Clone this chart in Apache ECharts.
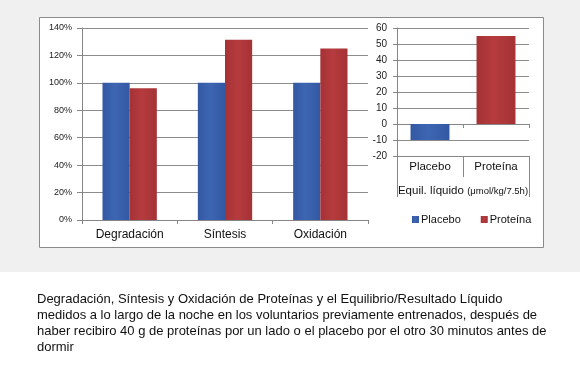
<!DOCTYPE html>
<html><head><meta charset="utf-8">
<script src="https://cdn.jsdelivr.net/npm/echarts@6/dist/echarts.min.js"></script>
<style>html,body{margin:0;padding:0;background:#fff}#c{width:580px;height:370px}</style>
</head><body><div id="c"></div>
<script>
const categories = ['Degradación', 'Síntesis', 'Oxidación'];
const placeboPct = [100, 100, 100];
const proteinPct = [96, 131.5, 125];
const balanceCategories = ['Placebo', 'Proteína'];
const balanceGroup = ['Equil. líquido'];
const balanceUnit = '(μmol/kg/7.5h)';
const placeboBalance = [-10, '-'];
const proteinBalance = ['-', 55];
const seriesNames = ['Placebo', 'Proteína'];
const captionLines = [
  'Degradación, Síntesis y Oxidación de Proteínas y el Equilibrio/Resultado Líquido',
  'medidos a lo largo de la noche en los voluntarios previamente entrenados, después de',
  'haber recibiro 40 g de proteínas por un lado o el placebo por el otro 30 minutos antes de',
  'dormir'
];

const FONT = '"Liberation Sans", Arial, sans-serif';
const grad = (edge, mid) => new echarts.graphic.LinearGradient(0, 0, 1, 0, [
  { offset: 0, color: edge }, { offset: 0.45, color: mid }, { offset: 1, color: edge }
]);
const blue = grad('#3358a3', '#3d66b2');
const red = grad('#a53235', '#b53b3e');
const gridLine = { show: true, lineStyle: { color: '#8c8c8c', width: 1 } };
const axisLineStyle = { color: '#868686', width: 1 };

const chart = echarts.init(document.getElementById('c'), null, { renderer: 'canvas' });
chart.setOption({
  animation: false,
  backgroundColor: '#ffffff',
  textStyle: { fontFamily: FONT },
  graphic: [
    { type: 'rect', z: -10, silent: true, shape: { x: 0, y: 0, width: 580, height: 272 }, style: { fill: '#f0f0f0' } },
    { type: 'rect', z: -9, silent: true, shape: { x: 39.5, y: 17.5, width: 504, height: 230 }, style: { fill: '#ffffff', stroke: '#8a8a8a', lineWidth: 1 } }
  ],
  title: {
    text: captionLines.join('\n'),
    left: 32, top: 286,
    textStyle: { fontFamily: FONT, fontSize: 13, fontWeight: 'normal', color: '#111', lineHeight: 16 }
  },
  legend: {
    data: seriesNames,
    left: 412, top: 214, padding: 0,
    icon: 'rect', itemWidth: 7, itemHeight: 7, itemGap: 20,
    textStyle: { fontFamily: FONT, fontSize: 11, color: '#111', padding: [0, 0, 0, -3] }
  },
  grid: [
    { left: 82, top: 28, width: 286, height: 192 },
    { left: 397, top: 28, width: 132, height: 128 }
  ],
  xAxis: [
    {
      gridIndex: 0, type: 'category', data: categories,
      axisLine: { lineStyle: axisLineStyle },
      axisTick: { show: true, length: 4, interval: 0, alignWithLabel: false, lineStyle: axisLineStyle },
      axisLabel: { fontSize: 12, color: '#111', margin: 9, fontFamily: FONT }
    },
    {
      gridIndex: 1, type: 'category', data: balanceCategories,
      axisLine: { onZero: true, lineStyle: axisLineStyle },
      axisTick: { show: true, length: 4, interval: 0, lineStyle: axisLineStyle },
      axisLabel: { show: false }
    },
    {
      gridIndex: 1, type: 'category', data: balanceCategories, position: 'bottom',
      axisLine: { show: true, onZero: false, lineStyle: axisLineStyle },
      axisTick: { show: true, length: 21, interval: 0, lineStyle: axisLineStyle },
      axisLabel: { fontSize: 11.5, color: '#111', margin: 5, fontFamily: FONT }
    },
    {
      gridIndex: 1, type: 'category', data: balanceGroup, position: 'bottom',
      axisLine: { show: false, onZero: false },
      axisTick: { show: true, length: 41, interval: 0, lineStyle: axisLineStyle },
      axisLabel: {
        margin: 29, interval: 0,
        formatter: v => '{a|' + v + '} {b|' + balanceUnit + '}',
        rich: {
          a: { fontSize: 11.5, color: '#111', fontFamily: FONT },
          b: { fontSize: 9.5, color: '#111', fontFamily: FONT }
        }
      }
    }
  ],
  yAxis: [
    {
      gridIndex: 0, type: 'value', min: 0, max: 140, interval: 20,
      axisLine: { show: true, lineStyle: axisLineStyle },
      axisTick: { show: true, length: 5, lineStyle: axisLineStyle },
      axisLabel: { formatter: '{value}%', fontSize: 9, color: '#222', margin: 10 },
      splitLine: gridLine
    },
    {
      gridIndex: 1, type: 'value', min: -20, max: 60, interval: 10,
      axisLine: { show: true, lineStyle: axisLineStyle },
      axisTick: { show: true, length: 4, lineStyle: axisLineStyle },
      axisLabel: { fontSize: 10, color: '#222', margin: 10 },
      splitLine: gridLine
    }
  ],
  series: [
    { name: seriesNames[0], type: 'bar', xAxisIndex: 0, yAxisIndex: 0, data: placeboPct,
      barGap: '0%', barCategoryGap: '43%', itemStyle: { color: blue } },
    { name: seriesNames[1], type: 'bar', xAxisIndex: 0, yAxisIndex: 0, data: proteinPct,
      barGap: '0%', barCategoryGap: '43%', itemStyle: { color: red } },
    { name: seriesNames[0], type: 'bar', xAxisIndex: 1, yAxisIndex: 1, data: placeboBalance,
      stack: 'bal', barCategoryGap: '41%', itemStyle: { color: blue } },
    { name: seriesNames[1], type: 'bar', xAxisIndex: 1, yAxisIndex: 1, data: proteinBalance,
      stack: 'bal', barCategoryGap: '41%', itemStyle: { color: red } }
  ]
});
</script></body></html>
